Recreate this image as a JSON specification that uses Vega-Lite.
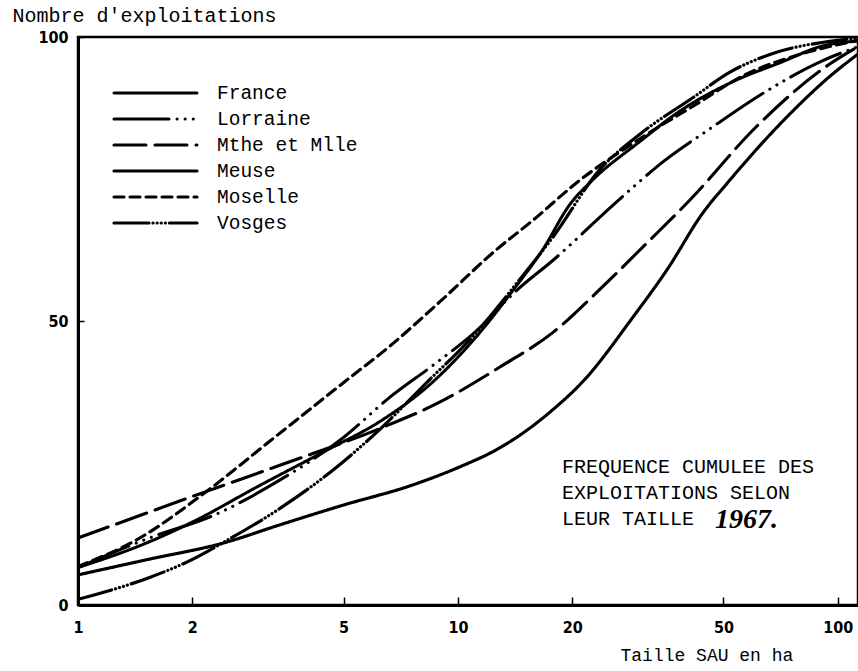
{
  "$schema": "https://vega.github.io/schema/vega-lite/v6.json",
  "autosize": "none",
  "width": 780,
  "height": 568,
  "padding": {"left": 78, "top": 37, "right": 0, "bottom": 66},
  "background": "white",
  "config": {
    "view": {"stroke": "black", "strokeWidth": 2.5},
    "axis": {"domainColor": "black", "domainWidth": 3, "tickColor": "black", "grid": false, "labelColor": "black", "titleColor": "black"}
  },
  "datasets": {
    "curves": [
      {"s": "France", "x": 1, "y": 6.6}, {"s": "France", "x": 1.5, "y": 10.8}, {"s": "France", "x": 2, "y": 14.6}, {"s": "France", "x": 3, "y": 21}, {"s": "France", "x": 4.5, "y": 27.2}, {"s": "France", "x": 6.23, "y": 32.3}, {"s": "France", "x": 8.5, "y": 39}, {"s": "France", "x": 11.4, "y": 47.9}, {"s": "France", "x": 14, "y": 55.5}, {"s": "France", "x": 16.7, "y": 62.5}, {"s": "France", "x": 19.7, "y": 70.5}, {"s": "France", "x": 22.6, "y": 74.8}, {"s": "France", "x": 30, "y": 81.5}, {"s": "France", "x": 37.7, "y": 86.6}, {"s": "France", "x": 54, "y": 92.4}, {"s": "France", "x": 70, "y": 95.4}, {"s": "France", "x": 91, "y": 98.4}, {"s": "France", "x": 113, "y": 99.3},
      {"s": "Lorraine", "x": 1, "y": 6.6}, {"s": "Lorraine", "x": 1.6, "y": 12.2}, {"s": "Lorraine", "x": 2.24, "y": 15.6}, {"s": "Lorraine", "x": 3.36, "y": 21.8}, {"s": "Lorraine", "x": 5, "y": 29.5}, {"s": "Lorraine", "x": 6.6, "y": 36.5}, {"s": "Lorraine", "x": 8.6, "y": 42.2}, {"s": "Lorraine", "x": 10.9, "y": 47.6}, {"s": "Lorraine", "x": 14.5, "y": 55.8}, {"s": "Lorraine", "x": 17.8, "y": 60.7}, {"s": "Lorraine", "x": 25.6, "y": 70.4}, {"s": "Lorraine", "x": 30, "y": 74.5}, {"s": "Lorraine", "x": 33.3, "y": 77.1}, {"s": "Lorraine", "x": 46.9, "y": 84.2}, {"s": "Lorraine", "x": 62.5, "y": 89.8}, {"s": "Lorraine", "x": 91, "y": 95.8}, {"s": "Lorraine", "x": 113, "y": 98.3},
      {"s": "Mthe et Mlle", "x": 1, "y": 11.8}, {"s": "Mthe et Mlle", "x": 2.2, "y": 20.1}, {"s": "Mthe et Mlle", "x": 3.4, "y": 24.6}, {"s": "Mthe et Mlle", "x": 6.3, "y": 31.2}, {"s": "Mthe et Mlle", "x": 8.95, "y": 35.7}, {"s": "Mthe et Mlle", "x": 12.9, "y": 41.9}, {"s": "Mthe et Mlle", "x": 17.8, "y": 48}, {"s": "Mthe et Mlle", "x": 24, "y": 56}, {"s": "Mthe et Mlle", "x": 31.4, "y": 63.7}, {"s": "Mthe et Mlle", "x": 40.8, "y": 71.3}, {"s": "Mthe et Mlle", "x": 61, "y": 84.2}, {"s": "Mthe et Mlle", "x": 95, "y": 95.2}, {"s": "Mthe et Mlle", "x": 113, "y": 98.3},
      {"s": "Meuse", "x": 1, "y": 5.3}, {"s": "Meuse", "x": 1.5, "y": 7.9}, {"s": "Meuse", "x": 2.47, "y": 11.1}, {"s": "Meuse", "x": 3.36, "y": 14}, {"s": "Meuse", "x": 5, "y": 17.6}, {"s": "Meuse", "x": 7.5, "y": 21}, {"s": "Meuse", "x": 10.1, "y": 24.3}, {"s": "Meuse", "x": 12.6, "y": 27.3}, {"s": "Meuse", "x": 15, "y": 30.5}, {"s": "Meuse", "x": 17.5, "y": 34}, {"s": "Meuse", "x": 21.5, "y": 39.6}, {"s": "Meuse", "x": 28.9, "y": 50.7}, {"s": "Meuse", "x": 35.5, "y": 59}, {"s": "Meuse", "x": 44.1, "y": 69}, {"s": "Meuse", "x": 51.5, "y": 74.5}, {"s": "Meuse", "x": 74.9, "y": 86.5}, {"s": "Meuse", "x": 95, "y": 93}, {"s": "Meuse", "x": 113, "y": 97},
      {"s": "Moselle", "x": 1, "y": 6.8}, {"s": "Moselle", "x": 1.42, "y": 11.4}, {"s": "Moselle", "x": 2.2, "y": 20.2}, {"s": "Moselle", "x": 3.22, "y": 29}, {"s": "Moselle", "x": 5.1, "y": 39.6}, {"s": "Moselle", "x": 6.6, "y": 45.5}, {"s": "Moselle", "x": 9, "y": 53.5}, {"s": "Moselle", "x": 12.6, "y": 62.5}, {"s": "Moselle", "x": 15.8, "y": 67.8}, {"s": "Moselle", "x": 20.5, "y": 74.3}, {"s": "Moselle", "x": 30, "y": 82}, {"s": "Moselle", "x": 42, "y": 88}, {"s": "Moselle", "x": 57.6, "y": 93.5}, {"s": "Moselle", "x": 80, "y": 97}, {"s": "Moselle", "x": 113, "y": 99.4},
      {"s": "Vosges", "x": 1, "y": 1}, {"s": "Vosges", "x": 1.55, "y": 4.9}, {"s": "Vosges", "x": 1.94, "y": 7.6}, {"s": "Vosges", "x": 2.47, "y": 11.4}, {"s": "Vosges", "x": 3.4, "y": 17}, {"s": "Vosges", "x": 4.8, "y": 24.3}, {"s": "Vosges", "x": 6.2, "y": 30.8}, {"s": "Vosges", "x": 8.4, "y": 39.6}, {"s": "Vosges", "x": 10.75, "y": 46.7}, {"s": "Vosges", "x": 14.5, "y": 57.2}, {"s": "Vosges", "x": 17.8, "y": 64.8}, {"s": "Vosges", "x": 23.6, "y": 76.6}, {"s": "Vosges", "x": 30, "y": 82.8}, {"s": "Vosges", "x": 41.7, "y": 89.4}, {"s": "Vosges", "x": 52, "y": 93.8}, {"s": "Vosges", "x": 69, "y": 97.3}, {"s": "Vosges", "x": 100, "y": 99.4}, {"s": "Vosges", "x": 113, "y": 99.8}
    ]
  },
  "layer": [
    {
      "data": {"name": "curves"},
      "mark": {"type": "line", "color": "black", "interpolate": "monotone", "strokeCap": "round", "clip": true},
      "encoding": {
        "x": {
          "field": "x", "type": "quantitative",
          "scale": {"type": "log", "domain": [1, 113], "nice": false},
          "axis": {
            "values": [1, 2, 5, 10, 20, 50, 100],
            "tickSize": -8, "tickWidth": 1.5, "labelPadding": 22, "labelFlush": false,
            "labelFont": "Liberation Sans Narrow, DejaVu Sans Condensed, sans-serif", "labelFontSize": 16, "labelFontWeight": "bold",
            "title": "Taille SAU en ha", "titleFont": "Liberation Mono", "titleFontSize": 18, "titleFontWeight": "normal",
            "titleX": 542, "titleY": 50, "titleAlign": "left", "titleBaseline": "middle", "titleAnchor": "start"
          }
        },
        "y": {
          "field": "y", "type": "quantitative",
          "scale": {"domain": [0, 100], "nice": false},
          "axis": {
            "values": [0, 50, 100],
            "tickSize": -6, "tickWidth": 1.5, "labelPadding": 16,
            "labelFont": "Liberation Sans Narrow, DejaVu Sans Condensed, sans-serif", "labelFontSize": 16, "labelFontWeight": "bold",
            "title": "Nombre d'exploitations", "titleFont": "Liberation Mono", "titleFontSize": 20, "titleFontWeight": "normal",
            "titleAngle": 0, "titleX": -66, "titleY": -22, "titleAlign": "left", "titleBaseline": "middle", "titleAnchor": "start"
          }
        },
        "strokeDash": {
          "field": "s", "type": "nominal",
          "scale": {
            "domain": ["France", "Lorraine", "Mthe et Mlle", "Meuse", "Moselle", "Vosges"],
            "range": [[1, 0], [55, 8, 0.1, 8, 0.1, 8, 0.1, 8], [32, 9], [1, 0], [10, 6], [35, 4, 0.1, 4, 0.1, 4, 0.1, 4, 0.1, 4]]
          },
          "legend": {
            "orient": "none", "legendX": 34, "legendY": 43, "title": null,
            "symbolType": "stroke", "symbolSize": 6889, "symbolStrokeColor": "black",
            "clipHeight": 26, "rowPadding": 0, "labelOffset": 18,
            "labelFont": "Liberation Mono", "labelFontSize": 19.5, "labelColor": "black",
            "encode": {"symbols": {"update": {"strokeWidth": {"signal": "datum.value === 'France' || datum.value === 'Lorraine' ? 3.4 : 1.2"}, "strokeCap": {"value": "round"}}}}
          }
        },
        "strokeWidth": {
          "field": "s", "type": "nominal",
          "scale": {
            "domain": ["France", "Lorraine", "Mthe et Mlle", "Meuse", "Moselle", "Vosges"],
            "range": [3, 3.2, 1.3, 1.2, 1.2, 1.1]
          },
          "legend": null
        }
      }
    },
    {
      "data": {"values": [{}]},
      "mark": {"type": "text", "align": "left", "baseline": "alphabetic", "font": "Liberation Mono", "fontSize": 20, "lineHeight": 26, "color": "black",
        "text": ["FREQUENCE CUMULEE DES", "EXPLOITATIONS SELON", "LEUR TAILLE"]},
      "encoding": {"x": {"datum": 18.8}, "y": {"datum": 23.2}}
    },
    {
      "data": {"values": [{}]},
      "mark": {"type": "text", "align": "left", "baseline": "alphabetic", "font": "Liberation Serif", "fontSize": 28, "fontStyle": "italic", "fontWeight": "bold", "color": "black", "text": "1967."},
      "encoding": {"x": {"datum": 47.5}, "y": {"datum": 13.6}}
    }
  ]
}
